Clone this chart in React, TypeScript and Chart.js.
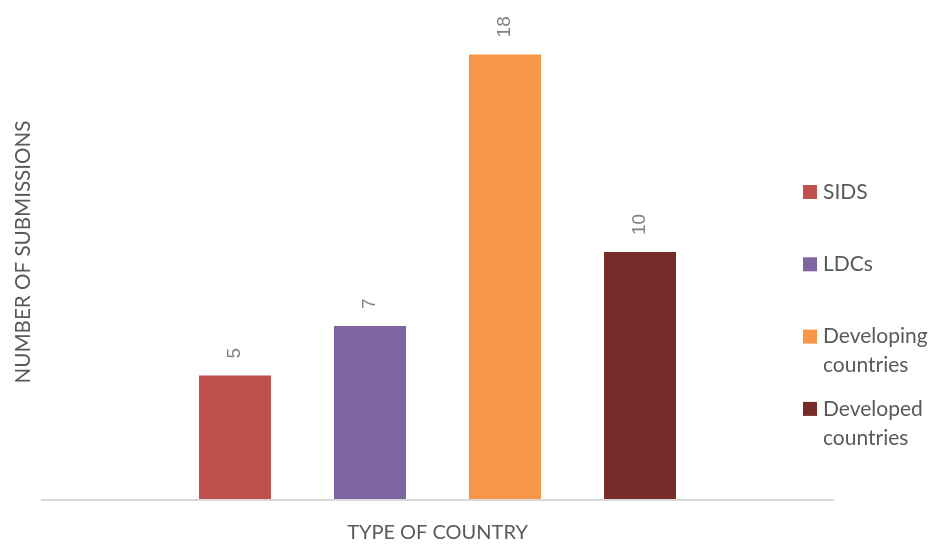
import React, { useEffect, useRef } from "react";
import { Chart, registerables } from "chart.js";

Chart.register(...registerables);

const categories = [""];
const seriesNames = ["SIDS", "LDCs", "Developing countries", "Developed countries"];
const seriesValues = [5, 7, 18, 10];
const seriesColors = ["#C0504D", "#8064A2", "#F79646", "#772C2A"];
const yTitle = "NUMBER OF SUBMISSIONS";
const xTitle = "TYPE OF COUNTRY";
const yMin = 0;
const yMax = 20;

const FONT = "Lato, 'Open Sans', sans-serif";
const TEXT_COLOR = "#595959";
const LABEL_COLOR = "#808080";

function wrapText(ctx: CanvasRenderingContext2D, text: string, maxWidth: number): string[] {
  const words = text.split(" ");
  const lines: string[] = [];
  let cur = "";
  for (const w of words) {
    const test = cur ? cur + " " + w : w;
    if (ctx.measureText(test).width > maxWidth && cur) {
      lines.push(cur);
      cur = w;
    } else {
      cur = test;
    }
  }
  if (cur) lines.push(cur);
  return lines;
}

const decorPlugin = {
  id: "decor",
  afterDraw(chart: any) {
    const ctx: CanvasRenderingContext2D = chart.ctx;
    const { left, right, top, bottom } = chart.chartArea;

    // baseline
    ctx.save();
    ctx.strokeStyle = "#d9d9d9";
    ctx.lineWidth = 2;
    ctx.beginPath();
    ctx.moveTo(left, bottom + 1);
    ctx.lineTo(right, bottom + 1);
    ctx.stroke();
    ctx.restore();

    // data labels
    chart.data.datasets.forEach((ds: any, i: number) => {
      const meta = chart.getDatasetMeta(i);
      const el = meta.data[0];
      if (!el) return;
      ctx.save();
      ctx.translate(el.x, el.y - 17);
      ctx.rotate(-Math.PI / 2);
      ctx.font = `19px 'Liberation Sans', Arial, sans-serif`;
      ctx.fillStyle = LABEL_COLOR;
      ctx.textAlign = "left";
      ctx.textBaseline = "middle";
      ctx.fillText(String(ds.data[0]), 0, 0);
      ctx.restore();
    });

    // y title
    ctx.save();
    ctx.translate(23, (top + bottom) / 2);
    ctx.rotate(-Math.PI / 2);
    ctx.font = `20.6px ${FONT}`;
    ctx.fillStyle = TEXT_COLOR;
    ctx.textAlign = "center";
    ctx.textBaseline = "middle";
    ctx.fillText(yTitle, 0, 0);
    ctx.restore();

    // x title
    ctx.save();
    ctx.font = `20px ${FONT}`;
    ctx.fillStyle = TEXT_COLOR;
    ctx.textAlign = "center";
    ctx.textBaseline = "middle";
    ctx.fillText(xTitle, (left + right) / 2, 533);
    ctx.restore();

    // legend
    ctx.save();
    ctx.font = `21px ${FONT}`;
    ctx.textAlign = "left";
    ctx.textBaseline = "middle";
    const legendX = 803;
    const legendTop = 185;
    const step = 72.3;
    const box = 14;
    const lineH = 29;
    const textX = legendX + box + 6;
    chart.data.datasets.forEach((ds: any, i: number) => {
      const y0 = legendTop + i * step;
      ctx.fillStyle = ds.backgroundColor;
      ctx.fillRect(legendX, y0, box, box);
      ctx.fillStyle = TEXT_COLOR;
      const lines = wrapText(ctx, ds.label, 935 - textX);
      lines.forEach((ln, k) => {
        ctx.fillText(ln, textX, y0 + box / 2 + k * lineH);
      });
    });
    ctx.restore();
  },
};

export default function App() {
  const canvasRef = useRef<HTMLCanvasElement | null>(null);

  useEffect(() => {
    if (!canvasRef.current) return;
    const chart = new Chart(canvasRef.current, {
      type: "bar",
      data: {
        labels: categories,
        datasets: seriesNames.map((name, i) => ({
          label: name,
          data: [seriesValues[i]],
          backgroundColor: seriesColors[i],
          borderWidth: 0,
          categoryPercentage: 0.681,
          barPercentage: 0.533,
        })),
      },
      options: {
        responsive: false,
        animation: false,
        layout: { padding: { left: 41, right: 101, top: 5, bottom: 46 } },
        plugins: {
          legend: { display: false },
          tooltip: { enabled: false },
          title: { display: false },
        },
        scales: {
          x: { display: false },
          y: { display: false, min: yMin, max: yMax },
        },
      },
      plugins: [decorPlugin],
    });
    return () => chart.destroy();
  }, []);

  return (
    <div style={{ position: "absolute", left: 0, top: 0, width: 935, height: 545, background: "#fff" }}>
      <canvas ref={canvasRef} width={935} height={545} style={{ display: "block" }} />
    </div>
  );
}
